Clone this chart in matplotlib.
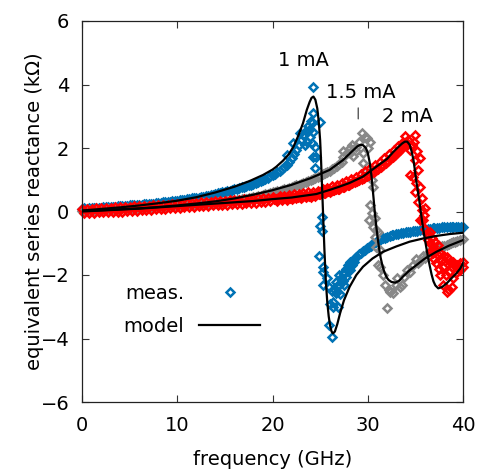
import matplotlib
matplotlib.use('Agg')
import matplotlib.pyplot as plt

plt.rcParams['font.family'] = ['DejaVu Sans']

# Messpunkte, gemeinsames Frequenzraster bis 20 GHz
freq_lo = [0, 0.25, 0.5, 0.75, 1, 1.25, 1.5, 1.75, 2, 2.25, 2.5, 2.75, 3, 3.25, 3.5, 3.75,
           4, 4.25, 4.5, 4.75, 5, 5.25, 5.5, 5.75, 6, 6.25, 6.5, 6.75, 7, 7.25, 7.5, 7.75,
           8, 8.25, 8.5, 8.75, 9, 9.25, 9.5, 9.75, 10, 10.25, 10.5, 10.75, 11, 11.25, 11.5, 11.75,
           12, 12.25, 12.5, 12.75, 13, 13.25, 13.5, 13.75, 14, 14.25, 14.5, 14.75, 15, 15.25, 15.5, 15.75,
           16, 16.25, 16.5, 16.75, 17, 17.25, 17.5, 17.75, 18, 18.25, 18.5, 18.75, 19, 19.25, 19.5, 19.75,
           20]

# 1 mA
blue_lo = [0.08, 0.1, 0.09, 0.1, 0.11, 0.1, 0.11, 0.12, 0.12, 0.13, 0.13, 0.14, 0.14, 0.15, 0.15, 0.16,
           0.16, 0.17, 0.18, 0.18, 0.19, 0.19, 0.2, 0.21, 0.21, 0.22, 0.23, 0.23, 0.24, 0.25, 0.25, 0.26,
           0.27, 0.28, 0.29, 0.3, 0.3, 0.31, 0.32, 0.33, 0.34, 0.35, 0.36, 0.37, 0.38, 0.39, 0.41, 0.42,
           0.43, 0.44, 0.46, 0.47, 0.49, 0.5, 0.52, 0.53, 0.55, 0.57, 0.58, 0.6, 0.62, 0.64, 0.66, 0.68,
           0.7, 0.72, 0.74, 0.76, 0.78, 0.8, 0.83, 0.85, 0.88, 0.91, 0.94, 0.97, 1.0, 1.03, 1.07, 1.11,
           1.15]
blue_hf = [20.25, 20.5, 20.75, 21.0, 21.25, 21.5, 21.75, 22.0, 22.25, 22.5, 22.75, 23.0, 23.25, 23.5,
           23.75, 24.0,
           21.5, 22.2, 22.9, 23.3, 23.6, 23.8, 24.1, 24.1, 24.2, 24.3, 24.3, 24.3, 24.5, 24.5,
           24.6, 25.0, 23.4, 23.9,
           25.2, 25.0, 25.2, 24.9, 25.3, 25.3, 25.7, 25.3, 25.9, 26.2, 26.4, 26.4, 25.9, 26.2,
           26.7, 26.0,
           26.7, 27.0, 27.0, 27.2, 27.4, 27.4, 27.7, 27.7, 27.9, 28.1, 28.1, 28.4, 28.6, 28.8,
           29.1, 29.3, 29.5, 29.7, 29.9, 30.1, 30.3, 30.6, 30.9, 31.1, 31.3, 31.6, 31.8, 32.0,
           32.3, 32.5, 32.7, 33.0, 33.2, 33.5, 33.7, 34.0, 34.2, 34.4, 34.7, 35.0, 35.2, 35.5,
           35.8, 36.0, 36.3, 36.5, 36.8, 37.0, 37.3, 37.5, 37.8, 38.0, 38.3, 38.6, 38.8, 39.0,
           39.3, 39.5, 39.8, 40.0,
           26.5, 26.8, 27.1, 27.3, 27.6, 28.0, 28.3, 26.9, 27.5, 28.6]
blue_hx = [1.19, 1.23, 1.28, 1.33, 1.39, 1.45, 1.55, 1.68, 1.8, 1.95, 2.1, 2.25, 2.4, 2.55,
           2.7, 2.85,
           1.78, 2.15, 2.46, 2.4, 2.2, 2.57, 2.78, 2.15, 3.92, 3.09, 2.51, 1.73, 2.04, 1.36,
           1.73, 2.83, 2.1, 2.35,
           -0.16, -0.45, -0.6, -1.4, -1.74, -1.9, -2.1, -2.31, -2.37, -2.5, -2.84, -3.0, -3.57, -3.94,
           -2.58, -2.9,
           -2.21, -2.3, -2.0, -2.1, -1.95, -2.2, -1.8, -2.05, -1.7, -1.58, -1.85, -1.55, -1.5, -1.42,
           -1.35, -1.3, -1.25, -1.2, -1.16, -1.12, -1.08, -1.0, -0.95, -0.92, -0.9, -0.85, -0.83, -0.8,
           -0.77, -0.75, -0.74, -0.71, -0.7, -0.68, -0.67, -0.66, -0.65, -0.64, -0.62, -0.61, -0.6, -0.58,
           -0.57, -0.56, -0.55, -0.54, -0.53, -0.52, -0.52, -0.51, -0.5, -0.5, -0.5, -0.49, -0.49, -0.48,
           -0.48, -0.48, -0.48, -0.48,
           -2.45, -2.35, -2.6, -2.15, -1.95, -1.8, -1.7, -3.0, -2.3, -1.6]

# 1.5 mA
gray_lo = [0.03, 0.03, 0.04, 0.04, 0.05, 0.05, 0.05, 0.06, 0.06, 0.06, 0.07, 0.07, 0.08, 0.08, 0.08, 0.09,
           0.09, 0.1, 0.1, 0.1, 0.11, 0.11, 0.12, 0.12, 0.12, 0.13, 0.13, 0.14, 0.14, 0.15, 0.15, 0.16,
           0.16, 0.16, 0.17, 0.17, 0.18, 0.18, 0.19, 0.19, 0.2, 0.2, 0.21, 0.21, 0.22, 0.22, 0.23, 0.23,
           0.24, 0.25, 0.25, 0.26, 0.26, 0.27, 0.27, 0.28, 0.28, 0.29, 0.3, 0.3, 0.31, 0.32, 0.33, 0.34,
           0.35, 0.36, 0.37, 0.38, 0.39, 0.4, 0.42, 0.43, 0.45, 0.46, 0.48, 0.5, 0.52, 0.54, 0.56, 0.58,
           0.6]
gray_hf = [20.25, 20.5, 20.75, 21.0, 21.25, 21.5, 21.75, 22.0, 22.25, 22.5, 22.75, 23.0, 23.25,
           23.5, 23.75, 24.0, 24.25, 24.5, 24.75, 25.0, 25.25, 25.5, 25.75, 26.0, 26.25, 26.5,
           26.75, 27.0, 27.25,
           27.4, 27.4, 27.8, 28.1, 28.1, 28.3, 28.5, 28.8, 28.8, 29.1, 29.4, 29.5,
           29.5, 29.7, 29.9, 29.7, 30.2, 30.0, 30.4, 30.6, 30.2, 30.4, 30.8, 30.6, 30.8, 30.1,
           30.9, 31.1, 30.9, 31.3, 31.1, 31.3, 31.6, 31.8, 32.0, 32.2, 32.3, 32.7, 33.1, 33.4,
           33.6, 33.0,
           33.8, 34.1, 34.4, 34.7, 35.1, 35.3, 35.5, 35.8, 36.0, 36.2, 36.5, 36.7, 36.9, 37.1,
           37.3, 37.6, 37.8, 38.0, 38.3, 38.5, 38.7, 39.0, 39.2, 39.4, 39.7, 40.0]
gray_hx = [0.62, 0.64, 0.66, 0.68, 0.7, 0.72, 0.74, 0.77, 0.79, 0.82, 0.84, 0.87, 0.9,
           0.93, 0.96, 0.99, 1.02, 1.06, 1.09, 1.13, 1.17, 1.21, 1.25, 1.29, 1.33, 1.38,
           1.44, 1.5, 1.56,
           1.73, 1.9, 1.85, 1.83, 2.0, 2.09, 1.75, 2.04, 1.9, 2.2, 2.46, 1.83,
           1.52, 2.35, 2.3, 1.25, 2.2, 2.0, 0.99, 0.78, 0.2, -0.06, -0.21, -0.48, -0.79, -0.27,
           -0.58, -0.64, -1.11, -1.21, -1.68, -1.74, -2.0, -2.31, -3.05, -2.47, -2.52, -2.58, -2.1, -2.37,
           -2.31, -2.3,
           -2.05, -1.85, -1.9, -1.7, -1.5, -1.62, -1.55, -1.4, -1.45, -1.35, -1.25, -1.3, -1.25, -1.2,
           -1.18, -1.12, -1.1, -1.08, -1.05, -1.03, -1.0, -0.97, -0.95, -0.93, -0.9, -0.86]

# 2 mA
red_lo = [0.07, -0.06, 0.08, -0.04, 0.09, -0.05, 0.1, -0.03, 0.1, -0.03, 0.11, -0.02, 0.12, -0.02, 0.13, 0.0,
          0.13, 0.0, 0.14, 0.02, 0.15, 0.02, 0.16, 0.03, 0.16, 0.04, 0.17, 0.05, 0.18, 0.06, 0.19, 0.07,
          0.2, 0.08, 0.21, 0.09, 0.22, 0.1, 0.23, 0.11, 0.24, 0.12, 0.25, 0.13, 0.26, 0.14, 0.27, 0.15,
          0.28, 0.16, 0.29, 0.17, 0.3, 0.18, 0.31, 0.19, 0.32, 0.2, 0.33, 0.21, 0.34, 0.22, 0.35, 0.23,
          0.36, 0.24, 0.37, 0.25, 0.38, 0.26, 0.39, 0.27, 0.4, 0.28, 0.41, 0.3, 0.43, 0.31, 0.44, 0.33,
          0.46]
red_hf = [20.25, 20.5, 20.75, 21.0, 21.25, 21.5, 21.75, 22.0, 22.25, 22.5, 22.75, 23.0, 23.25,
          23.5, 23.75, 24.0, 24.25, 24.5, 24.75, 25.0, 25.25, 25.5, 25.75, 26.0, 26.25, 26.5,
          26.75, 27.0, 27.25, 27.5, 27.75, 28.0, 28.25, 28.5, 28.75, 29.0, 29.25, 29.5, 29.75,
          30.0, 30.25, 30.5, 30.75, 31.0, 31.25, 31.5, 31.75, 32.0, 32.25, 32.5, 32.75, 33.0,
          33.2, 33.4, 33.6, 33.8, 33.9, 34.0, 34.2, 34.4,
          35.0, 34.6, 35.5, 35.0, 34.4, 34.8, 35.5, 35.7, 36.0, 35.9, 35.5, 34.9, 35.2, 35.3,
          35.1, 35.0, 35.3, 35.7, 35.8,
          36.2, 36.3, 36.5, 36.6, 36.9, 36.8, 37.0, 37.2, 37.4, 37.3, 37.5, 37.6, 37.7, 37.9,
          37.9, 38.0, 38.2, 38.3, 38.3, 38.5, 38.5, 38.6, 38.8, 38.8, 39.0, 39.0, 39.3, 39.4,
          39.7, 39.7, 40.0, 40.0, 36.4, 36.7, 37.1, 37.0, 37.6, 38.1, 38.9, 39.5, 36.0, 36.5,
          20.125, 20.375, 20.625, 20.875, 21.125, 21.375, 21.625, 21.875,
          22.125, 22.375, 22.625, 22.875, 23.125, 23.375, 23.625, 23.875,
          24.125, 24.375, 24.625, 24.875, 25.125, 25.375, 25.625, 25.875,
          26.125, 26.375, 26.625, 26.875, 27.125, 27.375, 27.625, 27.875,
          28.125, 28.375, 28.625, 28.875, 29.125, 29.375, 29.625, 29.875,
          30.125, 30.375, 30.625, 30.875, 31.125, 31.375, 31.625, 31.875,
          32.125, 32.375, 32.625, 32.875, 33.125, 33.375, 33.625, 33.875]
red_hx = [0.4, 0.33, 0.48, 0.35, 0.5, 0.37, 0.52, 0.39, 0.54, 0.41, 0.56, 0.43, 0.58,
          0.45, 0.6, 0.47, 0.62, 0.5, 0.66, 0.54, 0.7, 0.58, 0.74, 0.62, 0.79, 0.67,
          0.84, 0.72, 0.9, 0.78, 0.96, 0.85, 1.03, 0.92, 1.1, 1.0, 1.18, 1.08, 1.27,
          1.17, 1.36, 1.27, 1.46, 1.37, 1.57, 1.48, 1.68, 1.6, 1.8, 1.72, 1.93, 1.85,
          2.05, 1.95, 2.15, 2.1, 2.38, 2.2, 2.25, 1.95,
          2.41, 2.09, 1.68, 1.62, 1.15, 1.1, 0.78, 0.42, 0.1, -0.11, -0.27, 2.2, 1.9, 1.3,
          0.89, 0.6, 0.3, 0.05, -0.27,
          -0.69, -0.9, -1.0, -1.25, -1.32, -1.1, -1.5, -1.63, -1.05, -1.35, -1.8, -2.0, -1.55, -2.31,
          -1.74, -1.4, -2.0, -2.52, -1.42, -2.47, -1.9, -1.6, -2.37, -1.75, -1.58, -2.1, -1.95, -1.7,
          -1.63, -1.85, -1.74, -1.6, -0.75, -0.85, -0.95, -1.2, -1.3, -1.55, -1.65, -1.8, -0.55, -0.65,
          0.4, 0.4, 0.41, 0.41, 0.42, 0.42, 0.43, 0.43,
          0.44, 0.45, 0.45, 0.46, 0.47, 0.48, 0.49, 0.5,
          0.51, 0.52, 0.54, 0.55, 0.57, 0.59, 0.61, 0.63,
          0.65, 0.67, 0.7, 0.72, 0.75, 0.77, 0.8, 0.83,
          0.86, 0.89, 0.92, 0.95, 0.99, 1.03, 1.07, 1.11,
          1.15, 1.2, 1.25, 1.3, 1.35, 1.4, 1.46, 1.52,
          1.58, 1.65, 1.72, 1.79, 1.86, 1.94, 2.02, 2.1]

# Modell
blue_model_f = [0, 2, 4, 6, 8, 10, 12, 14, 16, 17.6, 19, 20, 20.4, 21.1, 21.7, 22.2, 22.7, 23.2,
                23.6, 23.9, 24.1, 24.3, 24.5, 24.7, 24.85, 25.0, 25.1, 25.2, 25.3, 25.45, 25.6,
                25.75, 25.9, 26.05, 26.2, 26.35, 26.55, 26.8, 27.1, 27.5, 28.1, 28.8, 29.5, 30.5,
                31.6, 33, 34.4, 35.8, 37.2, 38.6, 40]
blue_model_x = [0.03, 0.08, 0.13, 0.19, 0.26, 0.34, 0.45, 0.6, 0.78, 0.96, 1.15, 1.32, 1.41, 1.6,
                1.8, 2.04, 2.38, 2.78, 3.2, 3.45, 3.58, 3.62, 3.52, 3.25, 2.85, 2.25, 1.6, 0.8,
                0.0, -1.2, -2.2, -2.85, -3.3, -3.6, -3.78, -3.84, -3.78, -3.55, -3.2, -2.8, -2.37,
                -2.0, -1.74, -1.48, -1.27, -1.1, -0.95, -0.85, -0.77, -0.71, -0.67]

gray_model_f = [0, 2, 4, 6, 8, 10, 12, 14, 16, 18, 20, 22, 24, 26, 27.4, 28.3, 28.9, 29.2, 29.5,
                29.8, 30.0, 30.2, 30.4, 30.6, 30.75, 30.9, 31.05, 31.2, 31.35, 31.5, 31.65, 31.8,
                32.0, 32.2, 32.5, 32.9, 33.3, 33.7, 34.4, 35.1, 36.0, 37.2, 38.5, 40]
gray_model_x = [0.02, 0.04, 0.07, 0.1, 0.14, 0.19, 0.25, 0.32, 0.41, 0.53, 0.67, 0.84, 1.05,
                1.31, 1.62, 1.88, 2.05, 2.1, 2.09, 2.0, 1.85, 1.55, 1.1, 0.45, -0.05, -0.48,
                -0.85, -1.18, -1.45, -1.65, -1.82, -1.95, -2.08, -2.16, -2.22, -2.24, -2.18,
                -2.05, -1.85, -1.69, -1.48, -1.27, -1.08, -0.9]

red_model_f = [0, 2, 4, 6, 8, 10, 12, 14, 16, 18, 20, 22, 24.6, 26, 27, 28.1, 29.5, 30.9, 32,
               32.7, 33.2, 33.6, 33.9, 34.15, 34.4, 34.6, 34.8, 34.95, 35.1, 35.3, 35.5, 35.7,
               35.9, 36.1, 36.3, 36.5, 36.7, 36.9, 37.1, 37.4, 37.8, 38.3, 38.8, 39.3, 39.7, 40]
red_model_x = [0.0, 0.03, 0.06, 0.09, 0.13, 0.17, 0.21, 0.25, 0.29, 0.33, 0.39, 0.44, 0.55,
               0.68, 0.78, 0.9, 1.1, 1.41, 1.65, 1.88, 2.03, 2.14, 2.2, 2.2, 2.1, 1.9, 1.62,
               1.3, 0.95, 0.57, 0.15, -0.3, -0.7, -1.05, -1.4, -1.7, -1.98, -2.2, -2.33, -2.42,
               -2.38, -2.26, -2.1, -1.95, -1.8, -1.63]

labels = ['1 mA', '1.5 mA', '2 mA']
label_pos = [(23.3, 4.77), (29.3, 3.75), (34.2, 2.98)]

c_blue = '#0072b5'
c_gray = '#888888'
c_red = '#ff0000'
fs = 14

fig = plt.figure(figsize=(4.81, 4.72), dpi=100)
ax = fig.add_subplot(111)
fig.subplots_adjust(left=82/481, right=463/481, top=1-21/472, bottom=1-402/472)

mk = dict(marker='D', markersize=4.5, markeredgewidth=1.8, markerfacecolor='none',
          linestyle='none', clip_on=False)
meas, = ax.plot(freq_lo + blue_hf, blue_lo + blue_hx, color=c_blue, markeredgecolor=c_blue, **mk)
ax.plot(freq_lo + gray_hf, gray_lo + gray_hx, color=c_gray, markeredgecolor=c_gray, **mk)
ax.plot(freq_lo + red_hf, red_lo + red_hx, color=c_red, markeredgecolor=c_red, **mk)

mod, = ax.plot(blue_model_f, blue_model_x, color='black', lw=1.6, zorder=5)
ax.plot(gray_model_f, gray_model_x, color='black', lw=1.6, zorder=5)
ax.plot(red_model_f, red_model_x, color='black', lw=1.6, zorder=5)

for t, (x, y) in zip(labels, label_pos):
    ax.text(x, y, t, fontsize=fs, ha='center', va='center', zorder=6)
ax.annotate('', xy=(29.0, 2.83), xytext=(29.0, 3.35),
            arrowprops=dict(arrowstyle='-', color='#444444', lw=0.9))

ax.set_xlim(0, 40)
ax.set_ylim(-6, 6)
ax.set_xticks([0, 10, 20, 30, 40])
ax.set_yticks([-6, -4, -2, 0, 2, 4, 6])
ax.tick_params(direction='in', top=True, right=True, length=5, width=0.8,
               labelsize=fs, color='#333333')
ax.tick_params(axis='x', pad=10)
ax.tick_params(axis='y', pad=9)
for s in ax.spines.values():
    s.set_linewidth(0.9)
    s.set_color('#222222')

ax.set_xlabel('frequency (GHz)', fontsize=fs, labelpad=11)
ax.set_ylabel('equivalent series reactance (k\u03a9)', fontsize=fs, labelpad=-2)

ax.legend([meas, mod], ['meas.', 'model'], loc='upper left', bbox_to_anchor=(0.108, 0.31),
          markerfirst=False, frameon=False, handlelength=3.1, handletextpad=0.8,
          labelspacing=0.7, borderpad=0, borderaxespad=0, numpoints=1, fontsize=fs)

plt.savefig('out.png', dpi=100)
